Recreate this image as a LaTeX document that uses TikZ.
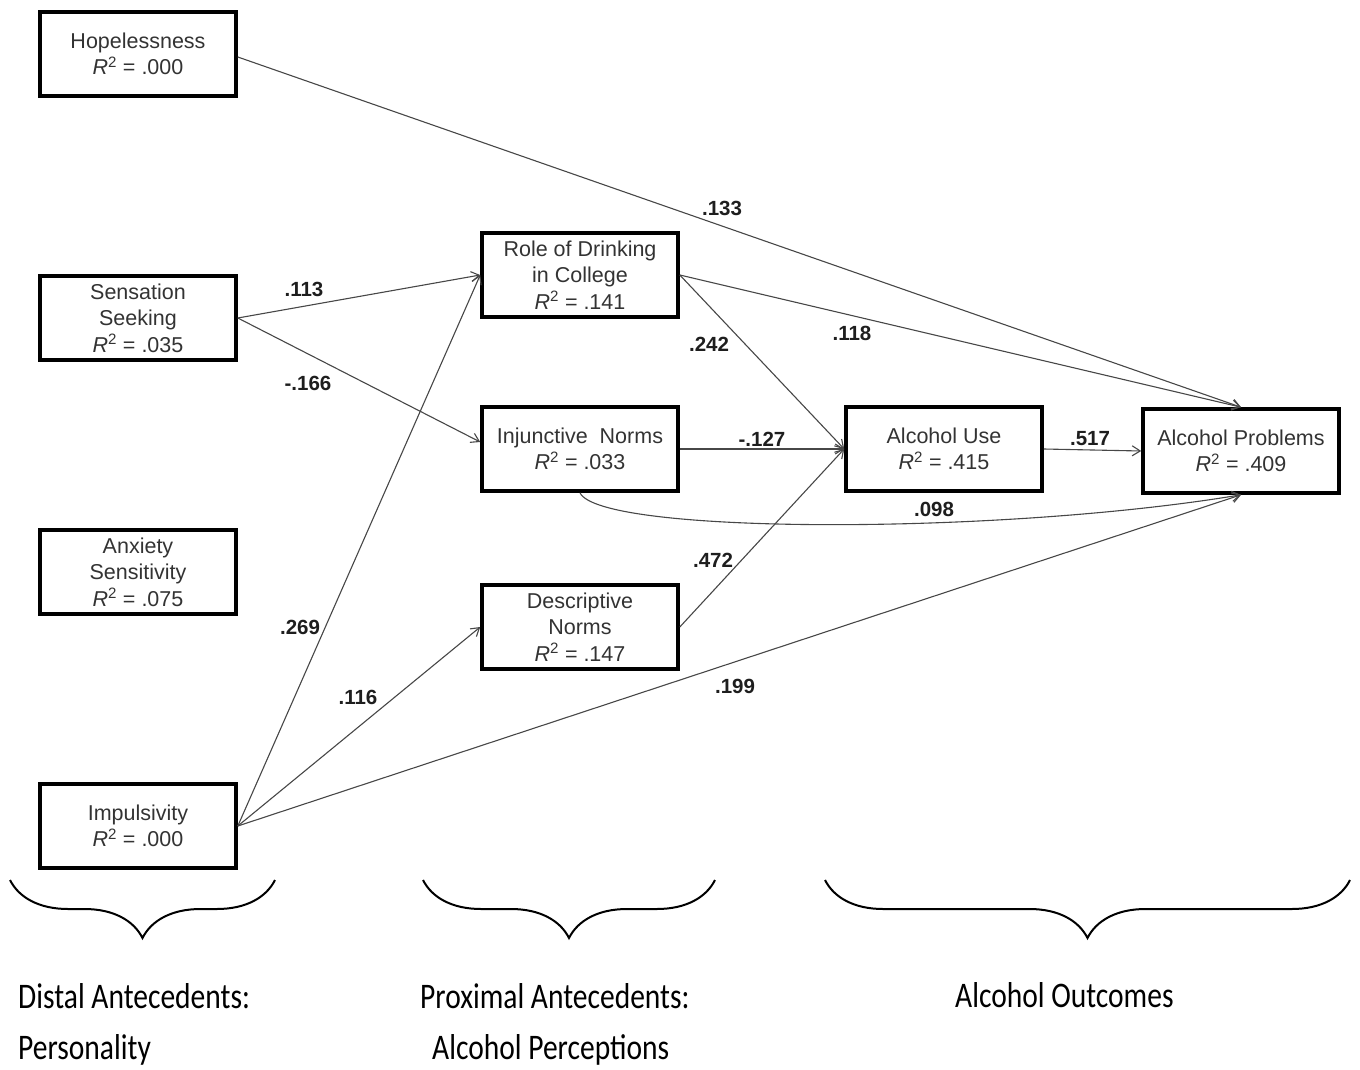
\documentclass[tikz,border=0pt]{standalone}
\usepackage{fontspec}
\setmainfont{Liberation Sans}
\newfontfamily\groupfont{Carlito}
\usetikzlibrary{arrows.meta,decorations.pathreplacing}
\definecolor{ink}{HTML}{333333}
\definecolor{wire}{HTML}{474747}
\definecolor{coef}{HTML}{1E1E1E}
\newcommand{\rsq}[1]{\textit{R}\textsuperscript{2} = #1}
\newcommand{\grouptext}[1]{\scalebox{0.82}[1]{#1}}

\begin{document}
\begin{tikzpicture}[x=1pt,y=-1pt,
  font=\fontsize{21.5}{26.5}\selectfont,text=ink,
  >={Straight Barb[length=8pt,width=10pt]},
  var/.style={draw=black,line width=3.6pt,minimum width=196pt,
    minimum height=84pt,align=center,inner sep=2pt},
  link/.style={wire,line width=1.1pt,->},
  coefl/.style={font=\fontsize{20.5}{24}\selectfont\bfseries,text=coef,inner sep=1pt},
  grp/.style={font=\fontsize{36}{40}\selectfont\groupfont,text=black,
    anchor=base west,inner sep=0pt},
  curly/.style={line width=2pt,decorate,decoration={brace,amplitude=58pt}}]
  \useasboundingbox (0,0) rectangle (1360,1070);

  % distal antecedents
  \node[var] (hope) at (138,54) {Hopelessness\\\rsq{.000}};
  \node[var] (sens) at (138,318) {Sensation\\Seeking\\\rsq{.035}};
  \node[var] (anx)  at (138,572) {Anxiety\\Sensitivity\\\rsq{.075}};
  \node[var] (imp)  at (138,826) {Impulsivity\\\rsq{.000}};

  % proximal antecedents
  \node[var] (role) at (580,275) {Role of Drinking\\in College\\\rsq{.141}};
  \node[var] (inj)  at (580,449) {Injunctive\ \ Norms\\\rsq{.033}};
  \node[var] (desc) at (580,627) {Descriptive\\Norms\\\rsq{.147}};

  % outcomes
  \node[var] (use)  at (944,449) {Alcohol Use\\\rsq{.415}};
  \node[var] (prob) at (1241,451) {Alcohol Problems\\\rsq{.409}};

  % paths
  \draw[link] (hope.east) ++(0,3) -- (prob.north);
  \draw[link] (sens.east) -- (role.west);
  \draw[link] (sens.east) -- ([yshift=7pt]inj.west);
  \draw[link] (imp.east) -- (role.west);
  \draw[link] (imp.east) -- (desc.west);
  \draw[link] (imp.east) -- (prob.south);
  \draw[link] (role.east) -- (prob.north);
  \draw[link] (role.east) -- (use.west);
  \draw[link] (inj.east) -- (use.west);
  \draw[link] (desc.east) -- (use.west);
  \draw[link] (use.east) -- (prob.west);
  \draw[link] (inj.south) .. controls +(20,42) and (1000,535) .. (prob.south);

  % coefficients
  \node[coefl] (c133)  at (722,208) {.133};
  \node[coefl] (c113)  at (304,289) {.113};
  \node[coefl] (c166)  at (308,383) {-.166};
  \node[coefl] (c269)  at (300,627) {.269};
  \node[coefl] (c116)  at (358,697) {.116};
  \node[coefl] (c199)  at (735,686) {.199};
  \node[coefl] (c118)  at (852,333) {.118};
  \node[coefl] (c242)  at (709,344) {.242};
  \node[coefl] (c127)  at (762,439) {-.127};
  \node[coefl] (c472)  at (713,560) {.472};
  \node[coefl] (c517)  at (1090,439) {.517};
  \node[coefl] (c098)  at (934,509) {.098};

  % groups
  \coordinate (b1l) at (10,880);   \coordinate (b1r) at (275,880);
  \coordinate (b2l) at (423,880);  \coordinate (b2r) at (715,880);
  \coordinate (b3l) at (825,880);  \coordinate (b3r) at (1350,880);
  \draw[curly] (b1r) -- (b1l);
  \draw[curly] (b2r) -- (b2l);
  \draw[curly] (b3r) -- (b3l);

  \node[grp] (distal)  at (18,1008)  {\grouptext{Distal Antecedents:}};
  \node[grp] (pers)    at (18,1059)  {\grouptext{Personality}};
  \node[grp] (proxim)  at (420,1008) {\grouptext{Proximal Antecedents:}};
  \node[grp] (percep)  at (432,1059) {\grouptext{Alcohol Perceptions}};
  \node[grp] (outcome) at (955,1007) {\grouptext{Alcohol Outcomes}};
\end{tikzpicture}
\end{document}
